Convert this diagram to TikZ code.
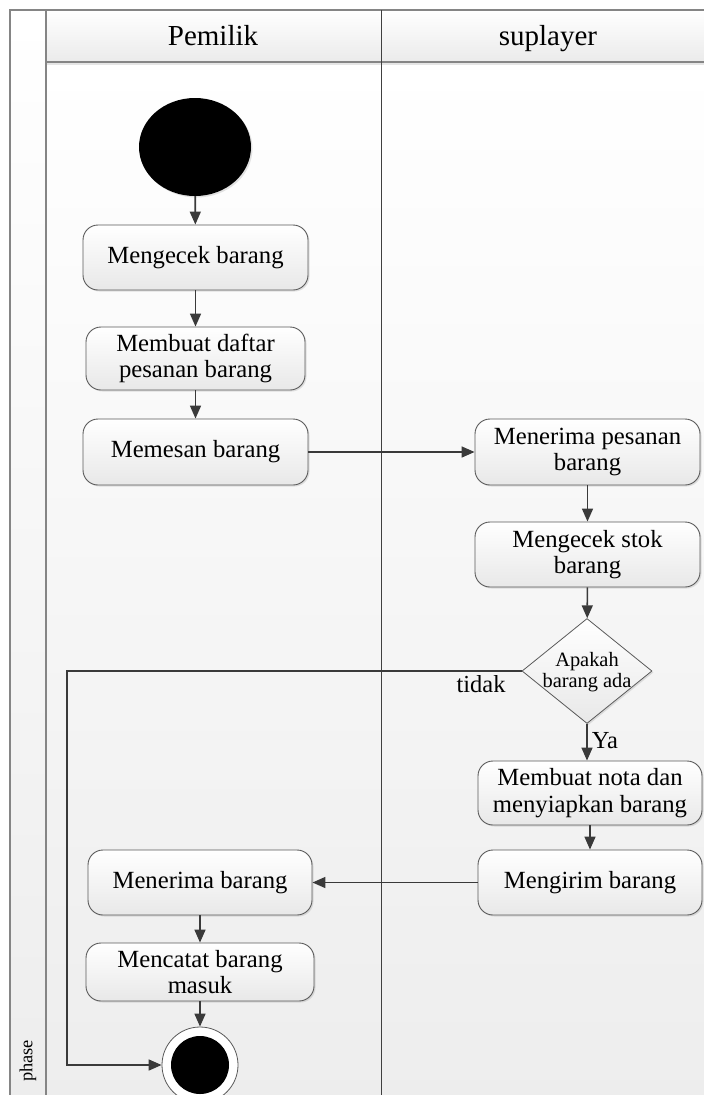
\documentclass[tikz,border=0pt]{standalone}
\usepackage{fontspec}
\setmainfont{Liberation Serif}
\usetikzlibrary{arrows.meta,shapes.geometric,shadows}
\definecolor{ln}{HTML}{3A3A3A}
\definecolor{bd}{HTML}{5A5A5A}
\definecolor{fr}{HTML}{858585}
\begin{document}
\begin{tikzpicture}[x=1pt,y=-1pt,
  sh/.style={drop shadow={shadow xshift=1.5pt,shadow yshift=-1.5pt,opacity=0.22}},
  act/.style={draw=bd,line width=0.9pt,rounded corners=15pt,top color=white,bottom color=black!9,
    minimum width=225pt,minimum height=65pt,inner sep=0pt,align=center,
    font=\fontsize{24.7}{26.5}\selectfont,sh},
  decision/.style={diamond,draw=bd,line width=0.8pt,top color=white,bottom color=black!9,
    minimum width=130pt,minimum height=105pt,inner sep=0pt,sh},
  startnode/.style={ellipse,fill=black,minimum width=112pt,minimum height=98pt,inner sep=0pt,sh},
  endnode/.style={circle,draw=bd,line width=0.8pt,fill=white,minimum size=76pt,inner sep=0pt},
  arr/.style={draw=ln,line width=1.6pt,-{Triangle[length=13pt,width=11pt]}},
  lbl/.style={font=\fontsize{24.5}{26}\selectfont,inner sep=0pt},
  hdr/.style={font=\fontsize{29}{32}\selectfont,anchor=base,inner sep=0pt}]
\useasboundingbox (0,0) rectangle (704,1095);
\clip (0,0) rectangle (704,1095);
% background
\fill[white] (0,0) rectangle (704,1095);
\shade[top color=white,bottom color=black!7] (10,62) rectangle (720,1100);
\shade[top color=white,bottom color=black!7] (10,10) rectangle (46,1100);
\shade[top color=white,bottom color=black!8] (46,10) rectangle (720,62);
\fill[black!10] (46,62) rectangle (720,65);
% frame
\draw[fr,line width=1.4pt] (10,1100) -- (10,10) -- (720,10);
\draw[fr,line width=1.6pt] (46,10) -- (46,1100);
\draw[fr,line width=1.2pt] (46,62) -- (720,62);
\draw[black!75,line width=0.9pt] (381,10) -- (381,1100);
% headers
\node[hdr] (h1) at (213,45) {Pemilik};
\node[hdr] (h2) at (548,45) {suplayer};
\node[font=\fontsize{18.4}{20}\selectfont,rotate=90,inner sep=0pt] (ph) at (28,1061) {phase};
% nodes
\node[startnode] (start) at (195,147) {};
\node[act] (chk) at (195.5,257.5) {Mengecek barang};
\node[act,minimum width=219pt,minimum height=63pt] (daftar) at (195.5,358.5) {Membuat daftar\\pesanan barang};
\node[act,minimum height=66pt] (pesan) at (195.5,452) {Memesan barang};
\node[act,minimum height=66pt] (terima) at (587.5,452) {Menerima pesanan\\barang};
\node[act] (stok) at (587.5,554.5) {Mengecek stok\\barang};
\node[decision] (dec) at (587,671) {};
\node[font=\fontsize{20.4}{21.5}\selectfont,align=center,inner sep=0pt] (dect) at (587,672) {Apakah\\barang ada};
\node[act,minimum width=224pt,minimum height=64pt] (nota) at (590,793) {Membuat nota dan\\menyiapkan barang};
\node[act,minimum width=224pt] (kirim) at (590,882.5) {Mengirim barang};
\node[act,minimum width=224pt] (terimab) at (200,882.5) {Menerima barang};
\node[act,minimum width=228pt,minimum height=58pt] (catat) at (200,972) {Mencatat barang\\masuk};
\node[endnode] (endc) at (200,1065) {};
\fill[black] (endc.center) circle[radius=29pt];
% connectors
\draw[arr] (start) -- (chk);
\draw[arr] (chk) -- (daftar);
\draw[arr] (daftar) -- (pesan);
\draw[arr] (pesan) -- (terima);
\draw[arr] (terima) -- (stok);
\draw[arr] (stok) -- (dec);
\draw[arr] (dec) -- (dec |- nota.north) node[lbl,pos=0.45,right=4pt] (ya) {Ya};
\draw[arr] (nota) -- (kirim);
\draw[arr] (kirim) -- (terimab);
\draw[arr] (terimab) -- (catat);
\draw[arr] (catat) -- (endc);
\coordinate (corner) at (67,671);
\draw[arr] (dec.west) -- (corner) |- (endc.west);
\node[lbl] (tidak) at (481,684) {tidak};
\end{tikzpicture}
\end{document}
